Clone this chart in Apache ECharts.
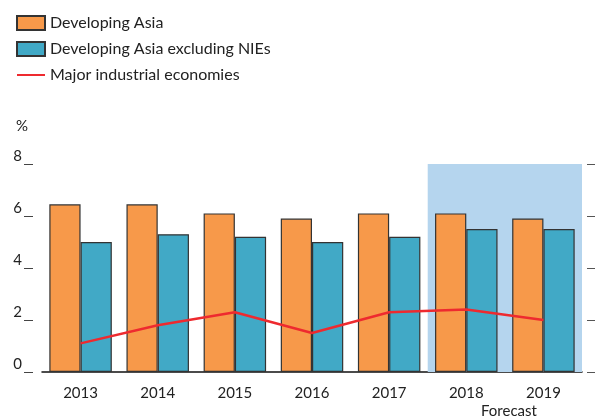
<!DOCTYPE html>
<html>
<head>
<meta charset="utf-8">
<script src="https://cdn.jsdelivr.net/npm/echarts@6/dist/echarts.min.js"></script>
<style>
  html, body { margin: 0; padding: 0; background: #fff; }
  #chart { width: 601px; height: 419px; }
</style>
</head>
<body>
<div id="chart"></div>
<script>
	var years = ['2013', '2014', '2015', '2016', '2017', '2018', '2019'];
	var devAsia = [6.45, 6.45, 6.1, 5.9, 6.1, 6.1, 5.9];
	var devAsiaExNIEs = [5.0, 5.3, 5.2, 5.0, 5.2, 5.5, 5.5];
	var majorIndustrial = [1.1, 1.8, 2.3, 1.5, 2.3, 2.4, 2.0];
	var forecastYears = ['2018', '2019'];

	var font = 'Lato';
	var chart = echarts.init(document.getElementById('chart'));

	var option = {
		backgroundColor: '#FFFFFF',
		animation: false,
		textStyle: { fontFamily: font },
		legend: {
			orient: 'vertical',
			left: 11,
			top: 10,
			itemWidth: 28,
			itemHeight: 14,
			itemGap: 10,
			textStyle: { fontFamily: font, fontSize: 16, color: '#222' },
			data: [
				{ name: 'Developing Asia', icon: 'rect' },
				{ name: 'Developing Asia excluding NIEs', icon: 'rect' },
				{ name: 'Major industrial economies', itemStyle: { opacity: 0 } }
			]
		},
		grid: { left: 42, right: 19, top: 164, bottom: 47 },
		xAxis: {
			type: 'category',
			data: years,
			axisLine: { lineStyle: { color: '#111', width: 1.5 } },
			axisTick: { show: false },
			axisLabel: { fontFamily: font, fontSize: 15, color: '#222', margin: 14 }
		},
		yAxis: [
			{
				type: 'value',
				min: 0,
				max: 8,
				interval: 2,
				offset: 9,
				name: '%',
				nameLocation: 'end',
				nameGap: 30,
				nameTextStyle: { fontFamily: font, fontSize: 15, color: '#222', align: 'right', padding: [0, 5, 0, 0] },
				splitLine: { show: false },
				axisLine: { show: false },
				axisTick: { show: true, length: 9, lineStyle: { color: '#444', width: 1 } },
				axisLabel: { fontFamily: font, fontSize: 15, color: '#222', margin: 11, verticalAlign: 'bottom' }
			},
			{
				type: 'value',
				position: 'right',
				min: 0,
				max: 8,
				interval: 2,
				offset: 13,
				splitLine: { show: false },
				axisLine: { show: false },
				axisTick: { show: true, length: 8, inside: true, lineStyle: { color: '#555', width: 1 } },
				axisLabel: { show: false }
			}
		],
		series: [
			{
				name: 'Developing Asia',
				type: 'bar',
				data: devAsia,
				barGap: '0%',
				barCategoryGap: '19%',
				itemStyle: { color: '#f7994a', borderColor: '#333', borderWidth: 1.2 },
				markArea: {
					silent: true,
					itemStyle: { color: '#b5d5ee' },
					data: [[{ xAxis: forecastYears[0] }, { xAxis: forecastYears[1] }]]
				},
				z: 2
			},
			{
				name: 'Developing Asia excluding NIEs',
				type: 'bar',
				data: devAsiaExNIEs,
				itemStyle: { color: '#41a9c6', borderColor: '#333', borderWidth: 1.2 },
				z: 2
			},
			{
				name: 'Major industrial economies',
				type: 'line',
				data: majorIndustrial,
				symbol: 'none',
				lineStyle: { color: '#ee2a2f', width: 2.5 },
				itemStyle: { color: '#ee2a2f' },
				z: 3
			}
		],
		graphic: [
			{
				type: 'text',
				left: 481,
				top: 404,
				style: { text: 'Forecast', font: '15px Lato', fill: '#222' }
			}
		]
	};

	chart.setOption(option);
</script>
</body>
</html>
